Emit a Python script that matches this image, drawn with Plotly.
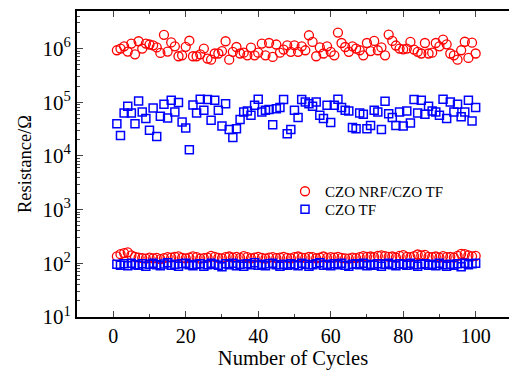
import plotly.graph_objects as go

cycles = list(range(1, 101))

# CZO NRF/CZO TF (red circles), units of 1e6 Ohm for high state
red_high_M = [0.93, 1.0, 1.1, 0.88, 1.24, 0.78, 1.37, 1.0, 1.24, 1.19,
              1.15, 1.05, 0.83, 1.8, 0.88, 1.3, 1.1, 0.72, 0.75, 1.08,
              1.40, 0.72, 0.72, 0.78, 1.0, 0.65, 0.62, 0.81, 0.81, 0.9,
              1.37, 0.62, 0.87, 1.07, 0.81, 0.84, 0.75, 1.04, 0.75, 0.84,
              1.24, 0.75, 1.27, 0.70, 1.19, 0.84, 0.96, 1.15, 0.87, 1.15,
              0.87, 1.1, 0.93, 1.77, 1.33, 0.72, 1.05, 0.81, 1.1, 0.87,
              0.75, 1.99, 1.27, 1.07, 0.87, 1.1, 1.0, 0.93, 0.75, 1.27,
              0.9, 1.39, 0.93, 1.05, 0.75, 1.82, 1.39, 1.14, 1.0, 0.97,
              1.0, 1.33, 0.96, 0.87, 0.81, 1.27, 0.81, 0.84, 1.27, 1.1,
              1.47, 1.2, 0.81, 0.75, 0.62, 0.93, 1.34, 0.67, 1.29, 0.81]
red_low = [135, 148, 155, 160, 140, 132, 128, 125, 122, 128,
           124, 126, 120, 125, 130, 128, 132, 135, 126, 124,
           128, 135, 130, 122, 125, 128, 138, 132, 126, 124,
           130, 134, 128, 132, 126, 136, 130, 124, 128, 132,
           126, 122, 128, 130, 125, 128, 132, 126, 124, 130,
           134, 128, 126, 132, 130, 124, 128, 134, 126, 130,
           128, 132, 126, 124, 122, 128, 125, 130, 136, 132,
           134, 130, 138, 140, 136, 132, 134, 128, 138, 142,
           132, 130, 136, 146, 140, 144, 132, 130, 134, 128,
           136, 130, 132, 128, 138, 150, 148, 140, 135, 138]

# CZO TF (blue squares), units of 1e3 Ohm for high state
blue_high_k = [40, 24, 63, 84, 63, 40, 106, 66, 50, 30,
               78, 23, 55, 92, 51, 109, 66, 99, 43, 33,
               13, 89, 63, 114, 71, 112, 46, 109, 71, 36,
               94, 31, 22, 32, 48, 66, 69, 57, 88, 114,
               66, 71, 73, 38, 76, 80, 112, 26, 31, 71,
               52, 112, 101, 94, 84, 101, 57, 50, 88, 42,
               88, 114, 80, 71, 69, 34, 32, 63, 60, 32,
               37, 71, 66, 31, 104, 61, 52, 37, 66, 36,
               69, 41, 112, 63, 109, 60, 84, 69, 66, 57,
               114, 50, 101, 66, 92, 54, 66, 109, 45, 80]
blue_low = [96, 92, 98, 90, 100, 94, 92, 98, 88, 96,
            100, 94, 90, 97, 102, 92, 96, 88, 98, 100,
            94, 90, 96, 98, 88, 94, 100, 96, 92, 86,
            98, 94, 100, 90, 96, 88, 98, 94, 102, 92,
            96, 90, 98, 100, 94, 88, 96, 92, 98, 94,
            90, 100, 96, 88, 94, 98, 102, 92, 96, 90,
            98, 94, 100, 92, 88, 96, 98, 94, 100, 90,
            96, 92, 98, 88, 96, 100, 94, 90, 98, 96,
            92, 100, 94, 88, 96, 98, 92, 96, 90, 100,
            94, 88, 96, 92, 98, 86, 100, 94, 98, 100]

x_ticks = [0, 20, 40, 60, 80, 100]
y_ticks = [1e1, 1e2, 1e3, 1e4, 1e5, 1e6]
y_ticktext = ["10<sup>1</sup>", "10<sup>2</sup>", "10<sup>3</sup>",
              "10<sup>4</sup>", "10<sup>5</sup>", "10<sup>6</sup>"]
y_minor = [m * 10 ** e for e in range(1, 7) for m in range(2, 10)]

red_high = [v * 1e6 for v in red_high_M]
blue_high = [v * 1e3 for v in blue_high_k]

FONT = "Liberation Serif, Times New Roman, serif"

fig = go.Figure()
fig.add_trace(go.Scatter(
    x=cycles + cycles, y=red_high + red_low, mode="markers",
    name="CZO NRF/CZO TF", legend="legend",
    marker=dict(symbol="circle-open", size=9, color="#FF0000",
                line=dict(width=1.3, color="#FF0000")),
))
fig.add_trace(go.Scatter(
    x=cycles + cycles, y=blue_high + blue_low, mode="markers",
    name="CZO TF", legend="legend2",
    marker=dict(symbol="square-open", size=8, color="#0000FF",
                line=dict(width=1.5, color="#0000FF")),
))

leg_common = dict(xanchor="left", yanchor="top", bgcolor="rgba(0,0,0,0)",
                  font=dict(size=15, family=FONT), itemsizing="trace")

fig.update_layout(
    width=509, height=370,
    margin=dict(l=77, r=0, t=11, b=53),
    paper_bgcolor="white", plot_bgcolor="white",
    font=dict(family=FONT, size=18, color="black"),
    showlegend=True,
    legend=dict(x=0.4815, y=0.464, **leg_common),
    legend2=dict(x=0.4815, y=0.405, **leg_common),
    xaxis=dict(
        range=[-10, 109.2], tickvals=x_ticks, ticks="inside", ticklen=6,
        tickwidth=1.2, showline=True, linecolor="black", linewidth=2,
        mirror="ticks", showgrid=False, zeroline=False,
        minor=dict(ticks="inside", ticklen=3, tickwidth=1, dtick=10,
                   tick0=0, showgrid=False),
        title=dict(text="Number of Cycles", font=dict(size=20.5), standoff=6),
        tickfont=dict(size=20),
    ),
    yaxis=dict(
        type="log", range=[1, 6.7], tickvals=y_ticks, ticktext=y_ticktext,
        ticks="inside", ticklen=6, tickwidth=1.2, showline=True,
        linecolor="black", linewidth=2, showgrid=False, zeroline=False,
        minor=dict(ticks="inside", ticklen=3, tickwidth=1,
                   tickmode="array", tickvals=y_minor, showgrid=False),
        title=dict(text="Resistance/Ω", font=dict(size=18.5), standoff=6),
        tickfont=dict(size=21),
    ),
)

fig.write_html("out.html")
